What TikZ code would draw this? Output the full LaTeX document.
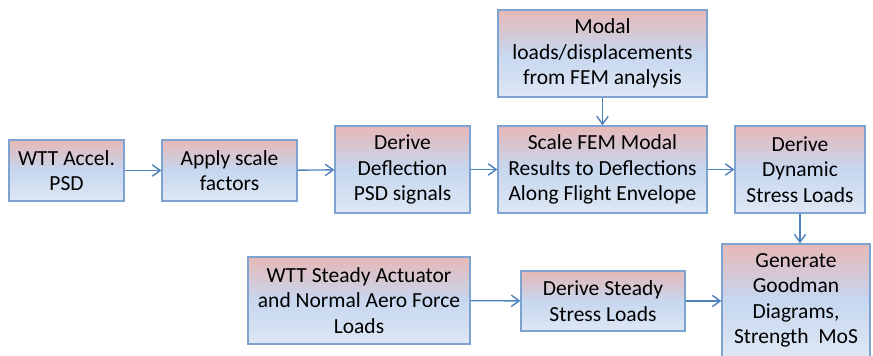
\documentclass[tikz,border=0pt]{standalone}
\usepackage{fontspec}
\setmainfont{Carlito}
\usetikzlibrary{arrows.meta, positioning}
\definecolor{cBorder}{HTML}{7FA3D0}
\definecolor{cTop}   {HTML}{E6B8B7}
\definecolor{cMid}   {HTML}{C6D7EF}
\definecolor{cBot}   {HTML}{DEE7F4}
\definecolor{cArrow} {HTML}{4F81BD}

\begin{document}
\begin{tikzpicture}[x=1pt, y=-1pt,
      blk/.style = {draw=cBorder, line width=1.2pt, top color=cTop, bottom color=cBot, middle color=cMid, inner sep=0pt, align=center, font=\fontsize{21.5}{25.5}\selectfont},
      ar/.style  = {-{Straight Barb[length=2.8mm, width=4mm]}, draw=cArrow, line width=1.4pt} ]
    \useasboundingbox (0,0) rectangle (873,356);
    \clip (0,0) rectangle (873,356);
    \node[blk, minimum width=115pt, minimum height=61pt] (psd)  at (66.5,170.5) {WTT Accel.\\PSD};
    \node[blk, minimum width=135pt, minimum height=61pt] (scl)  at (229.5,170.5) {Apply scale\\factors};
    \node[blk, minimum width=135pt, minimum height=87pt] (dfl)  at (402.5,169.5) {Derive\\Deflection\\PSD signals};
    \node[blk, minimum width=209pt, minimum height=87pt] (fem)  at (602.5,53.5) {Modal\\loads/displacements\\from FEM analysis};
    \node[blk, minimum width=209pt, minimum height=87pt] (mod)  at (602.5,169.5) {Scale FEM Modal\\Results to Deflections\\Along Flight Envelope};
    \node[blk, minimum width=130pt, minimum height=87pt] (dyn)  at (800,169.5) {Derive\\Dynamic\\Stress Loads};
    \node[blk, minimum width=148pt, minimum height=113pt] (gdm) at (796,300.5) {Generate\\Goodman\\Diagrams,\\Strength~~MoS};
    \node[blk, minimum width=222pt, minimum height=87pt] (act)  at (359,300.5) {WTT Steady Actuator\\and Normal Aero Force\\Loads};
    \node[blk, minimum width=164pt, minimum height=60pt] (sty)  at (603,301) {Derive Steady\\Stress Loads};
    \draw[ar] (psd) -- (scl); \draw[ar] (scl) -- (dfl);
    \draw[ar] (dfl) -- (mod); \draw[ar] (fem) -- (mod);
    \draw[ar] (mod) -- (dyn);
    \draw[ar] (dyn.south) -- (dyn.south |- gdm.north);
    \draw[ar] (act) -- (sty); \draw[ar] (sty) -- (sty -| gdm.west);
  \end{tikzpicture}
\end{document}
